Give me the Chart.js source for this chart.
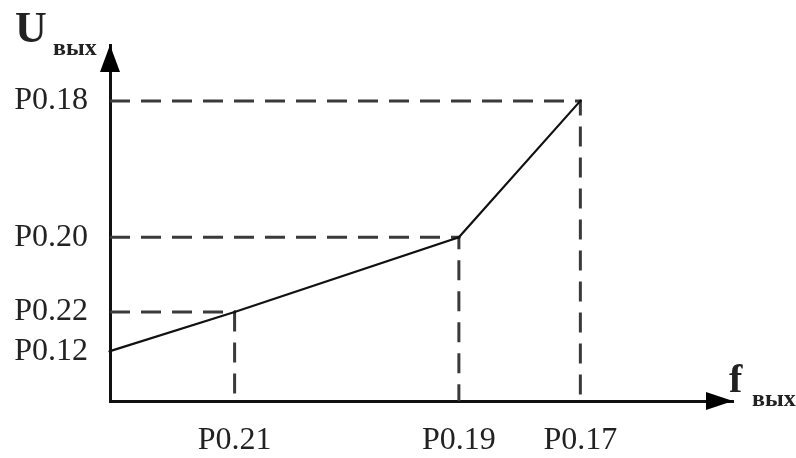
<!DOCTYPE html>
<html>
<head>
<meta charset="utf-8">
<script src="https://cdn.jsdelivr.net/npm/chart.js@4/dist/chart.umd.min.js"></script>
<style>
	html, body { margin: 0; padding: 0; background: #fff; }
	#wrap { width: 796px; height: 458px; }
</style>
</head>
<body>
<div id="wrap"><canvas id="vfChart"></canvas></div>
<script>
// break points of the U/f curve (axis units 0..100)
let freqs = [0, 20, 56, 75.5];
let volts = [14, 25, 46, 84.3];

// tick positions and their parameter names
let xTicks = [20, 56, 75.5];
let xLabels = ["P0.21", "P0.19", "P0.17"];
let yTicks = [14, 25, 46, 84.3];
let yLabels = ["P0.12", "P0.22", "P0.20", "P0.18"];

let curve = freqs.map((f, i) => ({ x: f, y: volts[i] }));

// dashed guides from each break point back to both axes
let guides = [1, 2, 3].map((i) => ({
	data: [
		{ x: 0, y: volts[i] },
		{ x: freqs[i], y: volts[i] },
		{ x: freqs[i], y: 0 },
	],
	borderColor: "#3a3a3a",
	borderWidth: 3,
	borderDash: [20, 11],
	pointRadius: 0,
	fill: false,
	clip: false,
}));

let font = "'Liberation Serif', 'DejaVu Serif', serif";

let axisDecor = {
	id: "axisDecor",
	afterDraw(chart) {
		let ctx = chart.ctx;
		let a = chart.chartArea;
		ctx.save();
		ctx.fillStyle = "#000";

		// arrow heads
		ctx.beginPath();
		ctx.moveTo(a.left, a.top);
		ctx.lineTo(a.left - 10, a.top + 27);
		ctx.lineTo(a.left + 10, a.top + 27);
		ctx.closePath();
		ctx.fill();

		ctx.beginPath();
		ctx.moveTo(a.right, a.bottom);
		ctx.lineTo(a.right - 27, a.bottom - 9);
		ctx.lineTo(a.right - 27, a.bottom + 9);
		ctx.closePath();
		ctx.fill();

		// axis names
		ctx.fillStyle = "#222";
		ctx.textAlign = "left";
		ctx.textBaseline = "alphabetic";
		ctx.font = "bold 44px " + font;
		ctx.fillText("U", a.left - 95, a.top - 3);
		ctx.font = "bold 24px " + font;
		ctx.fillText("вых", a.left - 57, a.top + 10);

		ctx.font = "bold 40px " + font;
		ctx.fillText("f", a.right - 4, a.bottom - 9);
		ctx.font = "bold 24px " + font;
		ctx.fillText("вых", a.right + 19, a.bottom + 5);
		ctx.restore();
	},
};

new Chart(document.getElementById("vfChart"), {
	type: "line",
	data: {
		datasets: [
			{
				data: curve,
				borderColor: "#111",
				borderWidth: 2.2,
				pointRadius: 1.5,
				pointBackgroundColor: "#111",
				pointBorderWidth: 0,
				tension: 0,
				fill: false,
				clip: false,
			},
			...guides,
		],
	},
	options: {
		responsive: true,
		maintainAspectRatio: false,
		animation: false,
		layout: {
			padding: { top: 45, right: 63, left: 0, bottom: 0 },
		},
		plugins: {
			legend: { display: false },
			tooltip: { enabled: false },
		},
		scales: {
			x: {
				type: "linear",
				min: 0,
				max: 100,
				afterFit(scale) {
					scale.height = 57;
				},
				afterBuildTicks(scale) {
					scale.ticks = xTicks.map((v) => ({ value: v }));
				},
				grid: { display: false, drawTicks: false },
				border: { display: true, color: "#111", width: 3 },
				ticks: {
					autoSkip: false,
					maxRotation: 0,
					padding: 20,
					color: "#222",
					font: { family: font, size: 32 },
					callback: (v) => xLabels[xTicks.indexOf(v)],
				},
			},
			y: {
				type: "linear",
				min: 0,
				max: 100,
				afterFit(scale) {
					scale.width = 110;
				},
				afterBuildTicks(scale) {
					scale.ticks = yTicks.map((v) => ({ value: v }));
				},
				grid: { display: false, drawTicks: false },
				border: { display: true, color: "#111", width: 3 },
				ticks: {
					autoSkip: false,
					padding: 22,
					color: "#222",
					font: { family: font, size: 32 },
					callback: (v) => yLabels[yTicks.indexOf(v)],
				},
			},
		},
	},
	plugins: [axisDecor],
});
</script>
</body>
</html>
